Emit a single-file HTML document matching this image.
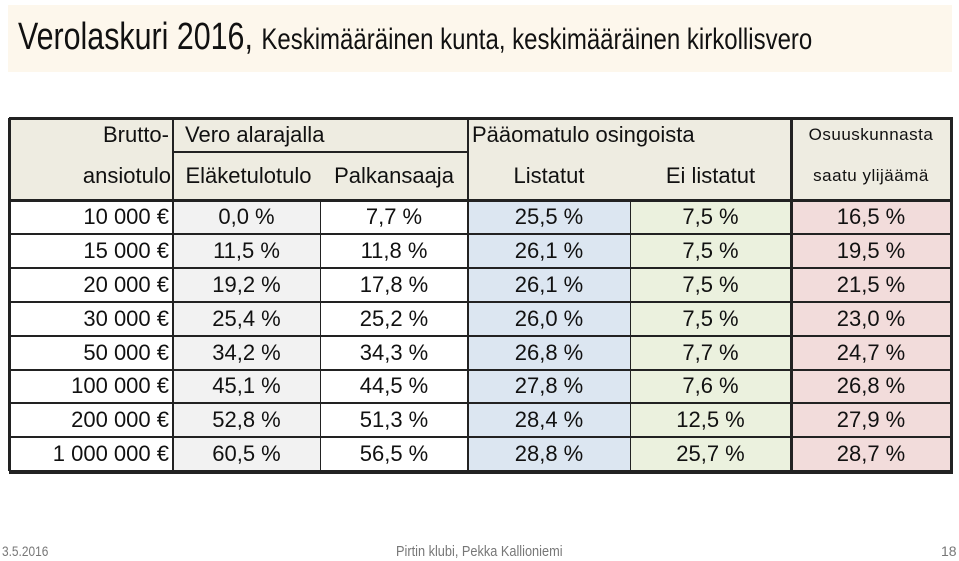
<!DOCTYPE html>
<html><head><meta charset="utf-8"><style>
body{margin:0;width:959px;height:561px;background:#fff;position:relative;overflow:hidden;font-family:"Liberation Sans",sans-serif;color:#111}
.c{position:absolute;box-sizing:border-box;display:flex;align-items:center;justify-content:center;font-size:22px;white-space:nowrap}
.r{justify-content:flex-end;padding-right:4px}
.l{justify-content:flex-start;padding-left:6px}
.ln{position:absolute;background:#222}
</style></head><body>
<div style="position:absolute;left:8px;top:5px;width:944px;height:67px;background:#fdf7ec"></div>
<div style="position:absolute;left:18px;top:16px;white-space:nowrap;transform:scaleX(0.8);transform-origin:left top;font-size:38px">Verolaskuri 2016, <span style="font-size:30px">Keskimääräinen kunta, keskimääräinen kirkollisvero</span></div>
<div id="tbl"></div>
<div style="position:absolute;left:2px;top:543px;font-size:14px;color:#777;transform:scaleX(0.85);transform-origin:left">3.5.2016</div>
<div style="position:absolute;left:396px;top:543px;font-size:15px;color:#777;transform:scaleX(0.85);transform-origin:left">Pirtin klubi, Pekka Kallioniemi</div>
<div style="position:absolute;left:941px;top:543px;font-size:14px;color:#777">18</div>
<script>
const incomes=["10 000 €","15 000 €","20 000 €","30 000 €","50 000 €","100 000 €","200 000 €","1 000 000 €"];
const pension=["0,0 %","11,5 %","19,2 %","25,4 %","34,2 %","45,1 %","52,8 %","60,5 %"];
const salary=["7,7 %","11,8 %","17,8 %","25,2 %","34,3 %","44,5 %","51,3 %","56,5 %"];
const listed=["25,5 %","26,1 %","26,1 %","26,0 %","26,8 %","27,8 %","28,4 %","28,8 %"];
const unlisted=["7,5 %","7,5 %","7,5 %","7,5 %","7,7 %","7,6 %","12,5 %","25,7 %"];
const coop=["16,5 %","19,5 %","21,5 %","23,0 %","24,7 %","26,8 %","27,9 %","28,7 %"];
const X=[9,173,320,468,630,791,951];
const T=118,H1=152,H2=200,RH=33.9;
const tbl=document.getElementById('tbl');
function cell(x,y,w,h,txt,bg,cls,name,extra){
 const d=document.createElement('div');
 d.className='c '+(cls||'');
 d.style.left=x+'px';d.style.top=y+'px';d.style.width=w+'px';d.style.height=h+'px';
 if(bg)d.style.background=bg;
 if(extra)Object.assign(d.style,extra);
 d.textContent=txt;
 
 
 tbl.appendChild(d);return d;
}
function line(x,y,w,h,name){
 const d=document.createElement('div');d.className='ln';
 d.style.left=x+'px';d.style.top=y+'px';d.style.width=w+'px';d.style.height=h+'px';
 
 
 tbl.appendChild(d);
}
const HB='#eeece1';
cell(X[0],T,X[6]-X[0],H2-T,'',HB,'','header-background');
cell(X[0],T,X[1]-X[0],H1-T,'Brutto-',null,'r','header-brutto');
cell(X[0],H1,X[1]-X[0],H2-H1,'ansiotulo',null,'r','header-ansiotulo',{paddingRight:'2px'});
cell(X[1],T,X[3]-X[1],H1-T,'Vero alarajalla',null,'l','header-vero-alarajalla',{paddingLeft:'12px'});
cell(X[3],T,X[5]-X[3],H1-T,'Pääomatulo osingoista',null,'l','header-paaomatulo',{paddingLeft:'4px'});
cell(X[1],H1,X[2]-X[1],H2-H1,'Eläketulotulo',null,'','header-elaketulo',{overflow:'visible',paddingLeft:'4px'});
cell(X[2],H1,X[3]-X[2],H2-H1,'Palkansaaja',null,'','header-palkansaaja');
cell(X[3],H1,X[4]-X[3],H2-H1,'Listatut',null,'','header-listatut');
cell(X[4],H1,X[5]-X[4],H2-H1,'Ei listatut',null,'','header-ei-listatut');
cell(X[5],T,X[6]-X[5],H1-T,'Osuuskunnasta',null,'',"header-osuuskunnasta",{fontSize:'17px',letterSpacing:'0.5px'});
cell(X[5],H1,X[6]-X[5],H2-H1,'saatu ylijäämä',null,'',"header-ylijaama",{fontSize:'17px',letterSpacing:'0.5px'});
const cols=[[incomes,'#fff','r','income'],[pension,'#f2f2f2','','pension'],[salary,'#fff','','salary'],[listed,'#dce6f1','','listed'],[unlisted,'#ebf1de','','unlisted'],[coop,'#f2dcdb','','coop']];
for(let i=0;i<incomes.length;i++){
 const y=H2+i*RH;
 cols.forEach((c,j)=>{cell(X[j],y,X[j+1]-X[j],RH,c[0][i],c[1],c[2],c[3]+'-cell-'+i);});
}
const B=H2+incomes.length*RH;
line(X[0],T-1,X[6]-X[0]+2,3,'table-top-border');
line(X[1],H1-1,X[3]-X[1],2,'header-sub-line');
line(X[0],H2-1,X[6]-X[0],3,'header-bottom-border');
for(let i=1;i<incomes.length;i++) line(X[0],H2+i*RH-1,X[6]-X[0],2,'row-line-'+i);
line(X[0],B-1,X[6]-X[0]+2,4,'table-bottom-border');
line(X[0]-1,T,3,B-T,'table-left-border');
line(X[1]-1,T,2,B-T,'col-line-1');
line(X[2],H2,1,B-H2,'col-line-2');
line(X[3]-1,T,2,B-T,'col-line-3');
line(X[4],H2,1,B-H2,'col-line-4');
line(X[5]-1,T,3,B-T,'col-line-5');
line(X[6]-1,T,3,B-T+2,'table-right-border');
</script>
</body></html>
